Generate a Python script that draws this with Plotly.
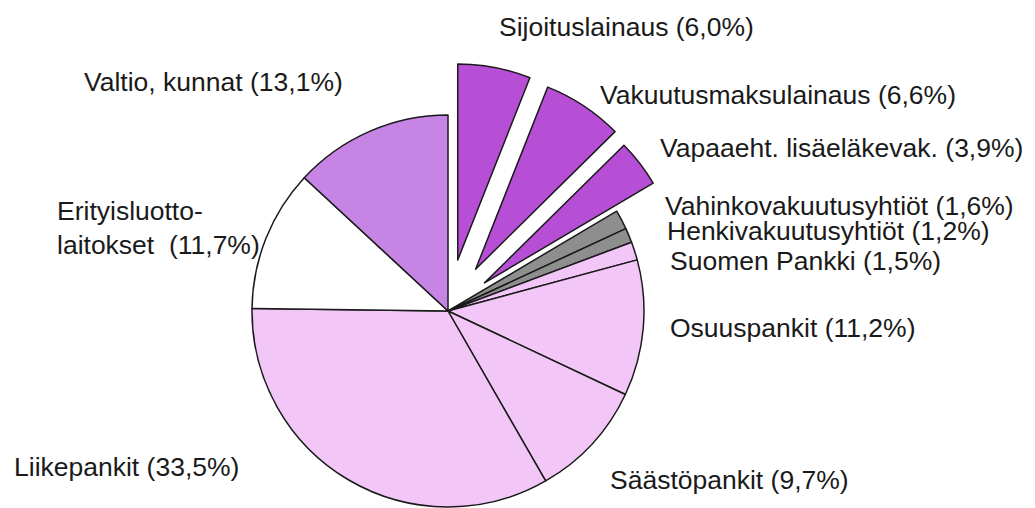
import math
import plotly.graph_objects as go

# ---- data ----
labels = ["Sijoituslainaus", "Vakuutusmaksulainaus", "Vapaaeht. lisäeläkevak.",
          "Vahinkovakuutusyhtiöt", "Henkivakuutusyhtiöt", "Suomen Pankki",
          "Osuuspankit", "Säästöpankit", "Liikepankit",
          "Erityisluotto-<br>laitokset", "Valtio, kunnat"]
values = [6.0, 6.6, 3.9, 1.6, 1.2, 1.5, 11.2, 9.7, 33.5, 11.7, 13.1]

# ---- styles / layout ----
W, H = 1035, 508
CX, CY, R = 448, 311, 196
DARK = "#b64fd6"
MID = "#c684e4"
LIGHT = "#f2c6f7"
GRAY = "#8e8e8e"
LINE = "#1a1a1a"
LW = 1.5
colors = [DARK, DARK, DARK, GRAY, GRAY, LIGHT, LIGHT, LIGHT, LIGHT, "#ffffff", MID]
pulls = [0.265, 0.255, 0.235, 0, 0, 0, 0, 0, 0, 0, 0]
label_pos = [(497, 27), (598, 95), (658, 148), (663, 206), (665, 231), (668, 261),
             (668, 328), (608, 480), (12, 467), (55, 228), (82, 82)]
FONT = dict(family="Liberation Sans, Arial, sans-serif", size=26.5, color="#1a1a1a")
TRANSP = "rgba(0,0,0,0)"


def domain_for(cx, cy):
    return dict(x=[(cx - R) / W, (cx + R) / W],
                y=[(H - cy - R) / H, (H - cy + R) / H])


fig = go.Figure()

# main pie with the pulled slices hidden
main_colors = [TRANSP if p > 0 else c for c, p in zip(colors, pulls)]
main_lw = [0 if p > 0 else LW for p in pulls]
fig.add_trace(go.Pie(
    labels=labels, values=values, sort=False, direction="clockwise", rotation=0,
    marker=dict(colors=main_colors, line=dict(color=LINE, width=main_lw)),
    textinfo="none", hoverinfo="skip", showlegend=False,
    domain=domain_for(CX, CY)))

# pulled slices: one pie each, shifted outward along the slice mid-angle
total = sum(values)
cum = 0.0
for i, v in enumerate(values):
    mid = (cum + v / 2) / total * 2 * math.pi
    cum += v
    if pulls[i] <= 0:
        continue
    dx = pulls[i] * R * math.sin(mid)
    dy = -pulls[i] * R * math.cos(mid)
    cols = [colors[j] if j == i else TRANSP for j in range(len(values))]
    lws = [LW if j == i else 0 for j in range(len(values))]
    fig.add_trace(go.Pie(
        labels=labels, values=values, sort=False, direction="clockwise", rotation=0,
        marker=dict(colors=cols, line=dict(color=LINE, width=lws)),
        textinfo="none", hoverinfo="skip", showlegend=False,
        domain=domain_for(CX + dx, CY + dy)))

annotations = []
for lab, v, (px, py) in zip(labels, values, label_pos):
    txt = f"{lab} ({v:.1f}%)".replace(f"{v:.1f}", f"{v:.1f}".replace(".", ","))
    if "<br>" in lab:
        txt = txt.replace(" (", "  (")
    annotations.append(dict(
        text=txt, x=px / W, y=1 - py / H, xref="paper", yref="paper",
        xanchor="left", yanchor="middle", align="left", showarrow=False, font=FONT))

fig.update_layout(
    width=W, height=H, margin=dict(l=0, r=0, t=0, b=0),
    paper_bgcolor="white", plot_bgcolor="white",
    annotations=annotations, showlegend=False)

fig.write_html("out.html", config={"displayModeBar": False},
               post_script="document.body.style.margin='0';document.body.style.overflow='hidden';")
